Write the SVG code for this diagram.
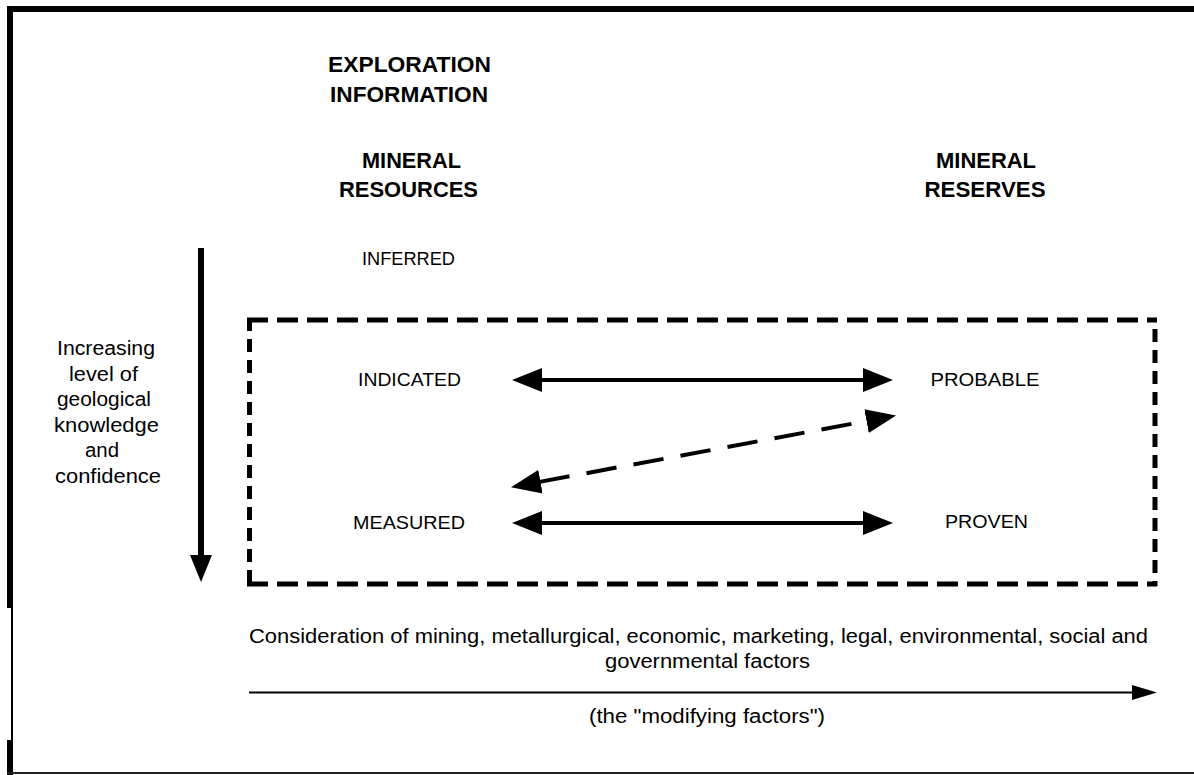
<svg xmlns="http://www.w3.org/2000/svg" width="1194" height="775" viewBox="0 0 1194 775">
<style>
  .hd { font-family: "Liberation Sans", Arial, sans-serif; font-weight: bold; font-size: 22px; fill: #000; text-anchor: middle; }
  .lb { font-family: "Liberation Sans", Arial, sans-serif; font-size: 19px; fill: #000; text-anchor: middle; }
  .tx { font-family: "Liberation Sans", Arial, sans-serif; font-size: 20px; fill: #000; text-anchor: middle; }
  .solid { stroke: #000; stroke-width: 4; fill: none; }
  .dash { stroke: #000; stroke-width: 4; fill: none; stroke-dasharray: 30.5 17.3; }
  .boxh { stroke: #000; stroke-width: 5; fill: none; stroke-dasharray: 21 9; }
  .boxv { stroke: #000; stroke-width: 5; fill: none; stroke-dasharray: 13 8; }
</style>
<defs>
  <marker id="ah" markerUnits="userSpaceOnUse" viewBox="0 0 30 24" markerWidth="30" markerHeight="24" refX="1" refY="12" orient="auto-start-reverse">
    <path d="M0,0 L30,12 L0,24 Z" fill="#000"/>
  </marker>
</defs>
<rect width="1194" height="775" fill="#fff"/>

<g id="frame" fill="#000">
  <rect x="7" y="6" width="1187" height="6"/>
  <rect x="7" y="6" width="6" height="602"/>
  <rect x="11" y="608" width="2" height="132"/>
  <rect x="7" y="740" width="6" height="35"/>
  <rect x="7" y="772" width="1187" height="2" fill="#222"/>
</g>

<g id="exploration-information">
  <text class="hd" x="409.5" y="72" textLength="163" lengthAdjust="spacingAndGlyphs">EXPLORATION</text>
  <text class="hd" x="409" y="102" textLength="158" lengthAdjust="spacingAndGlyphs">INFORMATION</text>
</g>

<g id="mineral-resources">
  <text class="hd" x="411.5" y="168" textLength="99" lengthAdjust="spacingAndGlyphs">MINERAL</text>
  <text class="hd" x="408.5" y="197" textLength="139" lengthAdjust="spacingAndGlyphs">RESOURCES</text>
</g>

<g id="mineral-reserves">
  <text class="hd" x="986" y="168" textLength="100" lengthAdjust="spacingAndGlyphs">MINERAL</text>
  <text class="hd" x="985" y="197" textLength="121" lengthAdjust="spacingAndGlyphs">RESERVES</text>
</g>

<g id="inferred">
  <text class="lb" x="408.5" y="265" textLength="93" lengthAdjust="spacingAndGlyphs">INFERRED</text>
</g>

<g id="modifying-box">
  <line class="boxh" x1="247" y1="320" x2="1157" y2="320"/>
  <line class="boxh" x1="247" y1="584" x2="1157" y2="584"/>
  <line class="boxv" x1="249.5" y1="318" x2="249.5" y2="586"/>
  <line class="boxv" x1="1155" y1="329" x2="1155" y2="586"/>
</g>

<g id="indicated">
  <text class="lb" x="409.5" y="386" textLength="103" lengthAdjust="spacingAndGlyphs">INDICATED</text>
</g>
<g id="probable">
  <text class="lb" x="985" y="386" textLength="109" lengthAdjust="spacingAndGlyphs">PROBABLE</text>
</g>
<g id="measured">
  <text class="lb" x="409" y="529" textLength="112" lengthAdjust="spacingAndGlyphs">MEASURED</text>
</g>
<g id="proven">
  <text class="lb" x="986.5" y="528" textLength="83" lengthAdjust="spacingAndGlyphs">PROVEN</text>
</g>

<g id="confidence-label">
  <text class="tx" x="106" y="355" textLength="98" lengthAdjust="spacingAndGlyphs">Increasing</text>
  <text class="tx" x="103.5" y="381" textLength="69" lengthAdjust="spacingAndGlyphs">level of</text>
  <text class="tx" x="104" y="406" textLength="94" lengthAdjust="spacingAndGlyphs">geological</text>
  <text class="tx" x="106.5" y="432" textLength="105" lengthAdjust="spacingAndGlyphs">knowledge</text>
  <text class="tx" x="102" y="457" textLength="34" lengthAdjust="spacingAndGlyphs">and</text>
  <text class="tx" x="108" y="483" textLength="106" lengthAdjust="spacingAndGlyphs">confidence</text>
</g>

<g id="modifying-factors">
  <text class="tx" x="698.5" y="643" textLength="899" lengthAdjust="spacingAndGlyphs">Consideration of mining, metallurgical, economic, marketing, legal, environmental, social and</text>
  <text class="tx" x="707.5" y="668" textLength="205" lengthAdjust="spacingAndGlyphs">governmental factors</text>
  <text class="tx" x="707" y="723" textLength="236" lengthAdjust="spacingAndGlyphs">(the "modifying factors")</text>
</g>

<g id="connectors">
  <line class="solid" x1="541" y1="380" x2="864" y2="380" marker-start="url(#ah)" marker-end="url(#ah)"/>
  <line class="solid" x1="541" y1="523" x2="864" y2="523" marker-start="url(#ah)" marker-end="url(#ah)"/>
  <line class="dash" x1="539.5" y1="481.9" x2="867.5" y2="420.9" marker-start="url(#ah)" marker-end="url(#ah)"/>
  <line x1="201" y1="248" x2="201" y2="556" stroke="#000" stroke-width="6"/>
  <path d="M190,555 L212,555 L201,582 Z" fill="#000"/>
  <line x1="249" y1="692.5" x2="1133" y2="692.5" stroke="#000" stroke-width="2"/>
  <path d="M1132,685 L1157,692.5 L1132,700 Z" fill="#000"/>
</g>
</svg>
